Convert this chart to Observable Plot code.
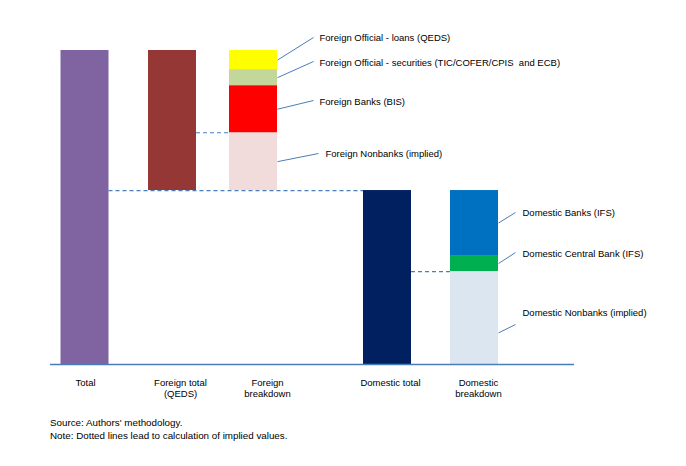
<!DOCTYPE html>
<html><head><meta charset="utf-8">
<script src="https://cdn.jsdelivr.net/npm/d3@7"></script>
<script src="https://cdn.jsdelivr.net/npm/@observablehq/plot@0.6"></script>
<style>
body{margin:0;background:#fff;font-family:"Liberation Sans",Arial,sans-serif;}
#chart{position:absolute;left:0;top:0;}
#notes{position:absolute;left:50px;top:416px;font-size:9.8px;line-height:13px;color:#000;}
</style></head><body>
<div id="chart"></div>
<div id="notes"><div>Source: Authors' methodology.</div><div>Note: Dotted lines lead to calculation of implied values.</div></div>
<script>
// ---- data ----
const barCategories = ["Total", "Foreign total", "Foreign breakdown", "Domestic total", "Domestic breakdown"];
const barTickLabels = ["Total", "Foreign total\n(QEDS)", "Foreign\nbreakdown", "Domestic total", "Domestic\nbreakdown"];
const totalValue = 100;
const foreignTotal = 44.6;
const domesticTotal = 55.4;
const foreignParts = ["Foreign Nonbanks (implied)", "Foreign Banks (BIS)", "Foreign Official - securities (TIC/COFER/CPIS  and ECB)", "Foreign Official - loans (QEDS)"];
const foreignValues = [18.4, 15.0, 5.1, 6.1];
const domesticParts = ["Domestic Nonbanks (implied)", "Domestic Central Bank (IFS)", "Domestic Banks (IFS)"];
const domesticValues = [29.6, 5.1, 20.7];

// ---- styles ----
const colors = {
  "Total": "#8064A2", "Foreign total": "#953735", "Domestic total": "#002060",
  "Foreign Nonbanks (implied)": "#F2DCDB", "Foreign Banks (BIS)": "#FF0000",
  "Foreign Official - securities (TIC/COFER/CPIS  and ECB)": "#C4D79B",
  "Foreign Official - loans (QEDS)": "#FFFF00",
  "Domestic Nonbanks (implied)": "#DCE6F1", "Domestic Central Bank (IFS)": "#00B050",
  "Domestic Banks (IFS)": "#0070C0"
};
const lineColor = "#4A7EBB";

// ---- layout (pixel positions) ----
const layout = {
  center: {"Total": 84.5, "Foreign total": 172, "Foreign breakdown": 253, "Domestic total": 387, "Domestic breakdown": 474},
  labelCenter: {"Total": 85, "Foreign total": 180, "Foreign breakdown": 267, "Domestic total": 390, "Domestic breakdown": 478},
  half: 24,
  axis: [50, 574],
  plotTop: 50, plotBottom: 364
};
const annotLayout = {
  "Foreign Official - loans (QEDS)": {tx: 319, ty: 37, lx: 313, ly: 37, f: 0.5},
  "Foreign Official - securities (TIC/COFER/CPIS  and ECB)": {tx: 319, ty: 62, lx: 313, ly: 61, f: 0.5},
  "Foreign Banks (BIS)": {tx: 319, ty: 101, lx: 313, ly: 100, f: 0.5},
  "Foreign Nonbanks (implied)": {tx: 325, ty: 153, lx: 318, ly: 153, f: 0.5},
  "Domestic Banks (IFS)": {tx: 522, ty: 212, lx: 515, ly: 212, f: 0.5},
  "Domestic Central Bank (IFS)": {tx: 522, ty: 253, lx: 515, ly: 252, f: 0.5},
  "Domestic Nonbanks (implied)": {tx: 522, ty: 312, lx: 515, ly: 324, f: 0.34}
};
const pxToY = py => (layout.plotBottom - py) * totalValue / (layout.plotBottom - layout.plotTop);

// ---- build rows ----
const rows = [
  {cat: "Total", name: "Total", y1: 0, y2: totalValue},
  {cat: "Foreign total", name: "Foreign total", y1: domesticTotal, y2: domesticTotal + foreignTotal},
  {cat: "Domestic total", name: "Domestic total", y1: 0, y2: domesticTotal}
];
function stack(cat, parts, values, base) {
  let acc = base;
  parts.forEach((p, i) => { rows.push({cat, name: p, y1: acc, y2: acc + values[i], seg: true}); acc += values[i]; });
}
stack("Foreign breakdown", foreignParts, foreignValues, domesticTotal);
stack("Domestic breakdown", domesticParts, domesticValues, 0);
const segs = rows.filter(d => d.seg);

const ticks = barCategories.map((c, i) => ({cat: c, label: barTickLabels[i]}));

const dashed = [
  {x1: layout.center["Total"] + layout.half, x2: layout.center["Domestic total"] - layout.half, y: domesticTotal},
  {x1: layout.center["Foreign total"] + layout.half, x2: layout.center["Foreign breakdown"] - layout.half, y: domesticTotal + foreignValues[0]},
  {x1: layout.center["Domestic total"] + layout.half, x2: layout.center["Domestic breakdown"] - layout.half, y: domesticValues[0]}
];

const plot = Plot.plot({
  width: 686, height: 405,
  marginTop: 0, marginBottom: 0, marginLeft: 0, marginRight: 0,
  x: {type: "linear", domain: [0, 686], range: [0, 686], axis: null},
  y: {type: "linear", domain: [0, totalValue], range: [layout.plotBottom, layout.plotTop], axis: null},
  style: {fontFamily: '"Liberation Sans", Arial, sans-serif', fontSize: "9.5px", background: "#fff", color: "#000"},
  marks: [
    Plot.rect(rows, {
      x1: d => layout.center[d.cat] - layout.half, x2: d => layout.center[d.cat] + layout.half,
      y1: "y1", y2: "y2", fill: d => colors[d.name]
    }),
    Plot.ruleY(dashed, {x1: "x1", x2: "x2", y: "y", stroke: lineColor, strokeWidth: 1.2, strokeDasharray: "4,3"}),
    Plot.ruleY([0], {x1: layout.axis[0], x2: layout.axis[1], stroke: lineColor, strokeWidth: 1.5}),
    Plot.link(segs, {
      x1: d => layout.center[d.cat] + layout.half,
      y1: d => d.y1 + (d.y2 - d.y1) * annotLayout[d.name].f,
      x2: d => annotLayout[d.name].lx,
      y2: d => pxToY(annotLayout[d.name].ly),
      stroke: lineColor, strokeWidth: 1
    }),
    Plot.text(segs, {
      x: d => annotLayout[d.name].tx, y: d => pxToY(annotLayout[d.name].ty),
      text: "name", textAnchor: "start", fill: "#000", fontSize: 9.5
    }),
    Plot.text(ticks, {
      x: d => layout.labelCenter[d.cat], y: pxToY(377),
      text: "label", lineAnchor: "top", lineHeight: 1.19, textAnchor: "middle", fill: "#000", fontSize: 9.5
    })
  ]
});
document.getElementById("chart").appendChild(plot);
</script>
</body></html>
